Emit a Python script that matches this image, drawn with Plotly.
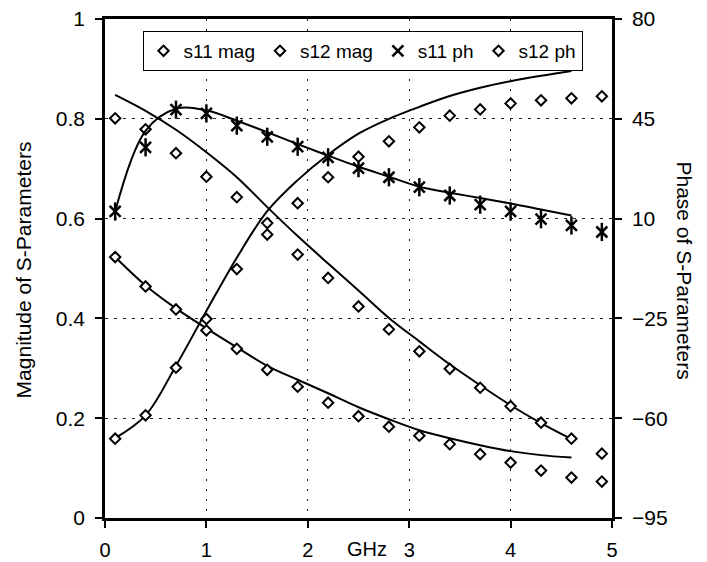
import plotly.graph_objects as go

# Measured frequencies (GHz)
freq_meas = [0.1, 0.4, 0.7, 1.0, 1.3, 1.6, 1.9, 2.2, 2.5, 2.8, 3.1, 3.4, 3.7, 4.0, 4.3, 4.6, 4.9]
# Model frequencies (GHz)
freq_model = [0.1, 0.4, 0.7, 1.0, 1.3, 1.6, 1.9, 2.2, 2.5, 2.8, 3.1, 3.4, 3.7, 4.0, 4.3, 4.6]

# Measured data (markers)
s11_mag = [0.801, 0.779, 0.731, 0.684, 0.643, 0.591, 0.528, 0.481, 0.424, 0.378, 0.334, 0.299, 0.261, 0.224, 0.191, 0.159, 0.129]
s12_mag = [0.523, 0.464, 0.418, 0.376, 0.339, 0.297, 0.263, 0.231, 0.204, 0.183, 0.165, 0.148, 0.128, 0.111, 0.095, 0.081, 0.073]
s11_ph = [12.5, 35.0, 48.2, 46.9, 42.6, 38.7, 35.2, 31.5, 27.7, 24.5, 21.0, 18.1, 14.9, 12.5, 9.8, 7.6, 5.3]
s12_ph = [-67.2, -59.0, -42.3, -25.2, -7.7, 4.4, 15.4, 24.5, 31.7, 37.1, 42.0, 46.1, 48.3, 50.4, 51.5, 52.2, 52.9]

# Model curves (lines)
s11_mag_model = [0.848, 0.816, 0.778, 0.733, 0.683, 0.623, 0.565, 0.510, 0.456, 0.401, 0.354, 0.308, 0.266, 0.226, 0.190, 0.158]
s12_mag_model = [0.523, 0.466, 0.420, 0.380, 0.342, 0.305, 0.277, 0.250, 0.222, 0.198, 0.176, 0.160, 0.146, 0.134, 0.126, 0.121]
s11_ph_model = [12.5, 40.8, 48.5, 48.0, 44.3, 40.3, 36.1, 32.1, 28.2, 24.7, 21.2, 19.1, 17.2, 15.3, 13.2, 11.1]
s12_ph_model = [-67.0, -59.0, -41.6, -22.4, -3.7, 12.6, 23.5, 32.4, 39.8, 45.0, 49.2, 53.0, 55.9, 58.2, 60.1, 61.8]

legend_names = ["s11 mag", "s12 mag", "s11 ph", "s12 ph"]
y_ticks_left = [0, 0.2, 0.4, 0.6, 0.8, 1]
y_ticks_right = [-95, -60, -25, 10, 45, 80]
x_ticks = [0, 1, 2, 3, 4, 5]

FONT = "Liberation Sans, Arial, Helvetica, sans-serif"
line_style = dict(color="black", width=2, shape="spline", smoothing=1.0)

fig = go.Figure()

# Model lines
fig.add_trace(go.Scatter(x=freq_model, y=s11_mag_model, mode="lines", line=line_style,
                         showlegend=False, yaxis="y", hoverinfo="skip"))
fig.add_trace(go.Scatter(x=freq_model, y=s12_mag_model, mode="lines", line=line_style,
                         showlegend=False, yaxis="y", hoverinfo="skip"))
fig.add_trace(go.Scatter(x=freq_model, y=s11_ph_model, mode="lines", line=line_style,
                         showlegend=False, yaxis="y2", hoverinfo="skip"))
fig.add_trace(go.Scatter(x=freq_model, y=s12_ph_model, mode="lines", line=line_style,
                         showlegend=False, yaxis="y2", hoverinfo="skip"))

diamond = dict(symbol="diamond", size=8, color="white", line=dict(color="black", width=2))

fig.add_trace(go.Scatter(x=freq_meas, y=s11_mag, mode="markers", name=legend_names[0],
                         marker=diamond, yaxis="y"))
fig.add_trace(go.Scatter(x=freq_meas, y=s12_mag, mode="markers", name=legend_names[1],
                         marker=diamond, yaxis="y"))
fig.add_trace(go.Scatter(x=freq_meas, y=s11_ph, mode="markers", name=legend_names[2],
                         marker=dict(symbol="x-thin-open", size=11, color="black",
                                     line=dict(color="black", width=2.5)), yaxis="y2"))
fig.add_trace(go.Scatter(x=freq_meas, y=s11_ph, mode="markers", showlegend=False,
                         marker=dict(symbol="line-ns-open", size=13, color="black",
                                     line=dict(color="black", width=2.5)), yaxis="y2",
                         hoverinfo="skip"))
fig.add_trace(go.Scatter(x=freq_meas, y=s12_ph, mode="markers", name=legend_names[3],
                         marker=diamond, yaxis="y2"))

axis_common = dict(showline=True, linecolor="black", linewidth=2.5, ticks="outside",
                   ticklen=7, tickwidth=1.5, tickcolor="black", zeroline=False,
                   automargin=False,
                   tickfont=dict(family=FONT, size=21, color="black"))

fig.update_layout(
    width=707, height=562,
    margin=dict(l=105, r=95, t=19, b=44),
    paper_bgcolor="white", plot_bgcolor="white",
    font=dict(family=FONT, size=19, color="black"),
    xaxis=dict(range=[0, 5], tickvals=x_ticks, showgrid=True, gridcolor="#222",
               gridwidth=1, griddash="2px,8px", mirror=True, ticklabelstandoff=5,
               **{**axis_common, "tickfont": dict(family=FONT, size=20, color="black")}),
    yaxis=dict(range=[0, 1], tickvals=y_ticks_left, showgrid=True, gridcolor="#222",
               gridwidth=1, griddash="3px,6px", ticklabelstandoff=6, **axis_common),
    yaxis2=dict(range=[-95, 80], tickvals=y_ticks_right, overlaying="y", side="right",
                showgrid=False, ticklabelstandoff=6, **axis_common),
    legend=dict(orientation="h", x=0.074, y=0.976, xanchor="left", yanchor="top",
                bgcolor="white", bordercolor="black", borderwidth=1,
                font=dict(family=FONT, size=19, color="black"),
                itemwidth=30, tracegroupgap=0),
    annotations=[
        dict(text="GHz", x=2.58, y=-0.062, xref="x", yref="paper", showarrow=False,
             xanchor="center", yanchor="middle",
             font=dict(family=FONT, size=20, color="black")),
        dict(text="Magnitude of S-Parameters", x=-0.159, y=0.497, xref="paper", yref="paper",
             xanchor="center", yanchor="middle",
             textangle=-90, showarrow=False, font=dict(family=FONT, size=21, color="black")),
        dict(text="Phase of S-Parameters", x=1.143, y=0.497, xref="paper", yref="paper",
             xanchor="center", yanchor="middle",
             textangle=90, showarrow=False, font=dict(family=FONT, size=21, color="black")),
    ],
)

fig.write_html("out.html")
